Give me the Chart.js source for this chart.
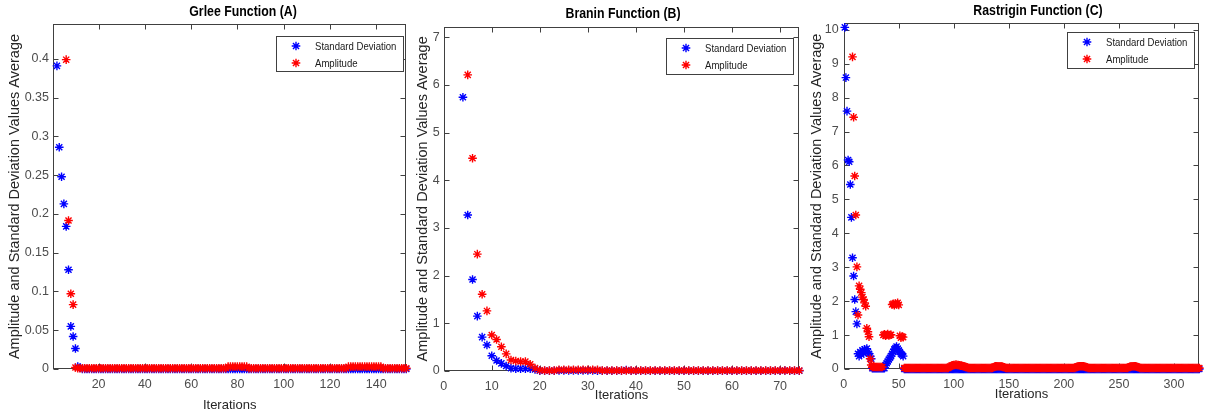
<!DOCTYPE html>
<html>
<head>
<meta charset="utf-8">
<script src="https://cdn.jsdelivr.net/npm/chart.js"></script>
<style>
  html, body { margin: 0; padding: 0; background: #fff; }
  #wrap { position: relative; width: 1205px; height: 415px; overflow: hidden; }
  canvas { position: absolute; top: 0; }
</style>
</head>
<body>
<div id="wrap">
  <canvas id="grlee" width="412" height="415" style="left:0px"></canvas>
  <canvas id="branin" width="393" height="415" style="left:412px"></canvas>
  <canvas id="rastrigin" width="400" height="415" style="left:805px"></canvas>
</div>
<script>
// ---- data (value arrays start at the given iteration) ----
const seriesLabels = ['Standard Deviation', 'Amplitude'];
const yTitle = 'Amplitude and Standard Deviation Values Average';
const xTitle = 'Iterations';

// Grlee (A)
const grleeStdStart = 2;
const grleeStd = [
  .391,.286,.248,.213,.184,.128,.055,.042,.0265,
  .003,.002,0,0,0,0,0,0,0,0,0,0,0,0,0,0,0,0,0,0,
  0,0,0,0,0,0,0,0,0,0,0,0,0,0,0,0,0,0,0,0,
  0,0,0,0,0,0,0,0,0,0,0,0,0,0,0,0,0,0,0,0,
  0,0,0,0,0,0,0,0,0,0,0,0,0,0,0,0,0,0,0,0,
  0,0,0,0,0,0,0,0,0,0,0,0,0,0,0,0,0,0,0,0,
  0,0,0,0,0,0,0,0,0,0,0,0,0,0,0,0,0,0,0,0,
  0,0,0,0,0,0,0,0,0,0,0,0,0,0,0,0,0,0,0,0,
  0,0,0
];
const grleeAmpStart = 6;
const grleeAmp = [
  .399,.1915,.097,.083,
  .002,.001,.001,.001,.001,.001,.001,.001,.001,.001,.001,.001,.001,.001,.001,.001,.001,.001,.001,.001,
  .001,.001,.001,.001,.001,.001,.001,.001,.001,.001,.001,.001,.001,.001,.001,.001,.001,.001,.001,.001,
  .001,.001,.001,.001,.001,.001,.001,.001,.001,.001,.001,.001,.001,.001,.001,.001,.001,.001,.001,.001,
  .001,.001,.001,.001,.001,.001,.003,.003,.003,.003,.003,.003,.003,.003,.003,.001,.001,.001,.001,.001,
  .001,.001,.001,.001,.001,.001,.001,.001,.001,.001,.001,.001,.001,.001,.001,.001,.001,.001,.001,.001,
  .001,.001,.001,.001,.001,.001,.001,.001,.001,.001,.001,.001,.001,.001,.001,.001,.001,.001,.003,.003,
  .003,.003,.003,.003,.003,.003,.003,.003,.003,.003,.003,.003,.003,.001,.001,.001,.001,.001,.001,.001,
  .001,.001,.001,.001
];

// Branin (B)
const braninStdStart = 4;
const braninStd = [
  5.74,3.27,1.92,1.15,.71,.545,.32,.22,.16,.105,
  .06,.05,.05,.05,.05,.03,.005,
  .005,.005,.005,.01,.01,.01,.01,.01,.01,.01,
  .01,.005,.005,.005,.005,.005,.005,.02,.005,.005,
  .005,.005,.005,.005,.005,.005,.005,.005,.005,.005,
  .005,.005,.005,.005,.005,.005,.005,.005,.005,.005,
  .005,.005,.005,.005,.005,.005,.005,.005,.005,.005,
  .01,.005,.005,.005
];
const braninAmpStart = 5;
const braninAmp = [
  6.21,4.46,2.45,1.61,1.26,.755,.66,.51,.36,.23,
  .21,.2,.2,.14,.06,.015,
  .01,.01,.01,.025,.025,.025,.025,.025,.025,.025,
  .025,.025,.01,.01,.01,.01,.01,.01,.01,.01,
  .01,.01,.01,.01,.01,.01,.01,.01,.01,.01,
  .01,.01,.01,.01,.01,.01,.01,.01,.01,.01,
  .01,.01,.01,.01,.01,.01,.01,.01,.01,.01,
  .01,.01,.01,.01
];

// Rastrigin (C)
const rastriginStdStart = 1;
const rastriginStd = [
  10.07,8.59,7.6,6.16,6.11,5.44,4.47,3.28,2.74,2.05,
  1.69,1.33,.45,.38,.5,.42,.55,.48,.58,.52,
  .6,.5,.45,.38,.3,.02,.02,.02,.02,.02,
  .02,.02,.02,.02,.02,.02,.02,.12,.17,.22,
  .28,.33,.38,.45,.5,.58,.62,.66,.6,.55,
  .5,.45,.42,.38,0,0,0,0,0,0,
  0,0,0,0,0,0,0,0,0,0,0,0,0,0,0,0,0,0,0,0,
  0,0,0,0,0,0,0,0,0,0,0,0,0,0,0,0,0,0,0,0,
  0,0,0,0,0,0,0,0,0,0,0,0,0,0,0,0,0,0,0,0,
  0,0,0,0,0,0,0,0,0,0,0,0,0,0,0,0,0,0,0,0,
  0,0,0,0,0,0,0,0,0,0,0,0,0,0,0,0,0,0,0,0,
  0,0,0,0,0,0,0,0,0,0,0,0,0,0,0,0,0,0,0,0,
  0,0,0,0,0,0,0,0,0,0,0,0,0,0,0,0,0,0,0,0,
  0,0,0,0,0,0,0,0,0,0,0,0,0,0,0,0,0,0,0,0,
  0,0,0,0,0,0,0,0,0,0,0,0,0,0,0,0,0,0,0,0,
  0,0,0,0,0,0,0,0,0,0,0,0,0,0,0,0,0,0,0,0,
  0,0,0,0,0,0,0,0,0,0,0,0,0,0,0,0,0,0,0,0,
  0,0,0,0,0,0,0,0,0,0,0,0,0,0,0,0,0,0,0,0,
  0,0,0,0,0,0,0,0,0,0,0,0,0,0,0,0,0,0,0,0,
  0,0,0
];
const rastriginAmpStart = 8;
const rastriginAmp = [
  9.2,7.42,5.69,4.54,3.01,1.59,2.45,2.35,2.25,2.12,
  2.05,1.95,1.85,1.2,1.1,.95,.3,.12,.06,.06,
  .06,.06,.06,.06,.06,.06,.06,.06,1,1.02,
  .98,1,1.03,.99,1,1.01,1.9,1.92,1.88,1.93,
  1.9,1.95,1.89,.98,.92,.96,.94,
  .03,.03,.03,.03,.03,.03,
  .03,.03,.03,.03,.03,.03,.03,.03,.03,.03,
  .03,.03,.03,.03,.03,.03,.03,.03,.03,.03,
  .03,.03,.03,.03,.03,.03,.03,.03,.03,.03,
  .03,.03,.03,.03,.03,.06,.08,.1,.11,.12,
  .12,.13,.12,.12,.11,.1,.1,.09,.08,.07,
  .06,.05,.03,.03,.03,.03,.03,.03,.03,.03,
  .03,.03,.03,.03,.03,.03,.03,.03,.03,.03,
  .03,.03,.03,.03,.03,.05,.07,.08,.08,.08,
  .08,.08,.08,.07,.06,.05,.03,.03,.03,.03,
  .03,.03,.03,.03,.03,.03,.03,.03,.03,.03,
  .03,.03,.03,.03,.03,.03,.03,.03,.03,.03,
  .03,.03,.03,.03,.03,.03,.03,.03,.03,.03,
  .03,.03,.03,.03,.03,.03,.03,.03,.03,.03,
  .03,.03,.03,.03,.03,.03,.03,.03,.03,.03,
  .03,.03,.03,.03,.03,.03,.03,.03,.03,.03,
  .05,.07,.08,.08,.08,.08,.08,.08,.07,.06,
  .05,.03,.03,.03,.03,.03,.03,.03,.03,.03,
  .03,.03,.03,.03,.03,.03,.03,.03,.03,.03,
  .03,.03,.03,.03,.03,.03,.03,.03,.03,.03,
  .03,.03,.03,.03,.03,.03,.03,.03,.05,.07,
  .08,.08,.08,.08,.08,.07,.06,.05,.03,.03,
  .03,.03,.03,.03,.03,.03,.03,.03,.03,.03,
  .03,.03,.03,.03,.03,.03,.03,.03,.03,.03,
  .03,.03,.03,.03,.03,.03,.03,.03,.03,.03,
  .03,.03,.03,.03,.03,.03,.03,.03,.03,.03,
  .03,.03,.03,.03,.03,.03,.03,.03,.03,.03,
  .03,.03,.03
];

const FONT = '"Liberation Sans", Arial, Helvetica, sans-serif';
const BLUE = '#0000ff';
const RED = '#ff0000';

function toPoints(start, values) {
  return values.map((v, i) => ({ x: start + i, y: v }));
}

function star(ctx, x, y, r) {
  const d = r * Math.SQRT1_2;
  ctx.beginPath();
  ctx.moveTo(x - r, y); ctx.lineTo(x + r, y);
  ctx.moveTo(x, y - r); ctx.lineTo(x, y + r);
  ctx.moveTo(x - d, y - d); ctx.lineTo(x + d, y + d);
  ctx.moveTo(x - d, y + d); ctx.lineTo(x + d, y - d);
  ctx.stroke();
}

// text squeezed a bit sideways, like the reference's narrow lettering
function narrowText(ctx, text, x, y, sx) {
  ctx.save();
  ctx.translate(x, y);
  ctx.scale(sx, 1);
  ctx.fillText(text, 0, 0);
  ctx.restore();
}

// axes box with inward ticks on all four sides (matlab style)
const boxPlugin = {
  id: 'matBox',
  beforeDatasetsDraw(chart) {
    const { ctx, chartArea: a, scales } = chart;
    const t = 5;
    ctx.save();
    ctx.strokeStyle = '#404040';
    ctx.lineWidth = 1;
    const L = Math.round(a.left) + .5, R = Math.round(a.right) - .5;
    const T = Math.round(a.top) + .5, B = Math.round(a.bottom) - .5;
    ctx.strokeRect(L, T, R - L, B - T);
    ctx.beginPath();
    scales.x.ticks.forEach(tk => {
      const px = Math.round(scales.x.getPixelForValue(tk.value)) + .5;
      ctx.moveTo(px, B); ctx.lineTo(px, B - t);
      ctx.moveTo(px, T); ctx.lineTo(px, T + t);
    });
    scales.y.ticks.forEach(tk => {
      const py = Math.round(scales.y.getPixelForValue(tk.value)) + .5;
      ctx.moveTo(L, py); ctx.lineTo(L + t, py);
      ctx.moveTo(R, py); ctx.lineTo(R - t, py);
    });
    ctx.stroke();
    ctx.restore();
  },
  afterDraw(chart, args, opts) {
    const { ctx } = chart;
    ctx.save();
    // title
    ctx.fillStyle = '#000';
    ctx.font = 'bold 14px ' + FONT;
    ctx.textAlign = 'center';
    ctx.textBaseline = 'middle';
    narrowText(ctx, opts.title, opts.titleX, opts.titleY, 0.88);
    // legend
    const lg = opts.legend;
    ctx.fillStyle = '#fff';
    ctx.fillRect(lg.x, lg.y, lg.w, lg.h);
    ctx.strokeStyle = '#404040';
    ctx.lineWidth = 1;
    ctx.strokeRect(lg.x + .5, lg.y + .5, lg.w, lg.h);
    ctx.font = '11px ' + FONT;
    ctx.textAlign = 'left';
    chart.data.datasets.forEach((ds, i) => {
      const yy = lg.y + 10 + i * 17;
      ctx.strokeStyle = ds.borderColor;
      ctx.lineWidth = 1.4;
      star(ctx, lg.x + 20, yy, 4.3);
      ctx.fillStyle = '#1a1a1a';
      narrowText(ctx, ds.label, lg.x + 39, yy + 1, 0.87);
    });
    ctx.restore();
  }
};

const fmt = v => String(Math.round(v * 1000) / 1000);

function makeChart(id, p) {
  const tickFont = { family: FONT, size: 12.5 };
  new Chart(document.getElementById(id), {
    type: 'scatter',
    data: {
      datasets: [
        {
          label: seriesLabels[0], data: toPoints(p.stdStart, p.std),
          borderColor: BLUE, backgroundColor: BLUE, pointStyle: 'star',
          pointRadius: 4.3, borderWidth: 1.4, order: 1, clip: false
        },
        {
          label: seriesLabels[1], data: toPoints(p.ampStart, p.amp),
          borderColor: RED, backgroundColor: RED, pointStyle: 'star',
          pointRadius: 4.3, borderWidth: 1.4, order: 0, clip: false
        }
      ]
    },
    options: {
      responsive: false,
      animation: false,
      events: [],
      layout: { padding: { left: 0, right: p.padRight, top: p.padTop, bottom: 0 } },
      plugins: {
        legend: { display: false },
        tooltip: { enabled: false },
        title: { display: false },
        matBox: { title: p.title, titleX: p.titleX, titleY: p.titleY, legend: p.legend }
      },
      scales: {
        x: {
          type: 'linear', min: p.xMin, max: p.xMax,
          grid: { display: false, drawTicks: false }, border: { display: false },
          ticks: { stepSize: p.xStep, includeBounds: false, font: tickFont, color: '#4d4d4d', padding: 8, maxRotation: 0, callback: fmt },
          title: { display: true, text: xTitle, font: { family: FONT, size: 13 }, color: '#262626', padding: { top: 0, bottom: p.xTitlePad } },
          afterFit: s => { s.height = p.xAxisH; }
        },
        y: {
          type: 'linear', min: 0, max: p.yMax,
          grid: { display: false, drawTicks: false }, border: { display: false },
          ticks: { stepSize: p.yStep, includeBounds: false, font: tickFont, color: '#4d4d4d', padding: p.yTickPad, callback: fmt },
          title: { display: true, text: yTitle, font: { family: FONT, size: 14.5 }, color: '#262626', padding: { top: p.yTitlePad, bottom: 0 } },
          afterFit: s => { s.width = p.yAxisW; }
        }
      }
    },
    plugins: [boxPlugin]
  });
}

makeChart('grlee', {
  title: 'Grlee Function (A)', titleX: 243, titleY: 12.5,
  std: grleeStd, stdStart: grleeStdStart, amp: grleeAmp, ampStart: grleeAmpStart,
  xMin: 0.3, xMax: 153, xStep: 20, yMax: 0.445, yStep: 0.05,
  padTop: 24, padRight: 3, yAxisW: 53, xAxisH: 46,
  yTickPad: 4, yTitlePad: 6.3, xTitlePad: 2.2,
  legend: { x: 276, y: 36, w: 127, h: 35 }
});

makeChart('branin', {
  title: 'Branin Function (B)', titleX: 211, titleY: 14.5,
  std: braninStd, stdStart: braninStdStart, amp: braninAmp, ampStart: braninAmpStart,
  xMin: 0, xMax: 74, xStep: 10, yMax: 7.22, yStep: 1,
  padTop: 26.7, padRight: 2.7, yAxisW: 31.7, xAxisH: 44,
  yTickPad: 4, yTitlePad: 2.6, xTitlePad: 11.5,
  legend: { x: 254, y: 38, w: 127, h: 36 }
});

makeChart('rastrigin', {
  title: 'Rastrigin Function (C)', titleX: 233, titleY: 11,
  std: rastriginStd, stdStart: rastriginStdStart, amp: rastriginAmp, ampStart: rastriginAmpStart,
  xMin: 0, xMax: 323, xStep: 50, yMax: 10.19, yStep: 1,
  padTop: 23.3, padRight: 2, yAxisW: 38.7, xAxisH: 46,
  yTickPad: 5, yTitlePad: 3, xTitlePad: 12.9,
  legend: { x: 262, y: 32, w: 127, h: 36 }
});
</script>
</body>
</html>
